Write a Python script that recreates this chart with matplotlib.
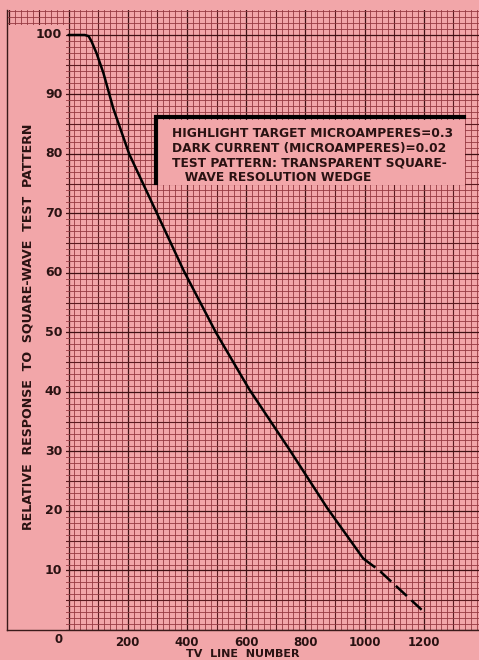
import numpy as np
import matplotlib
matplotlib.use("Agg")
import matplotlib.pyplot as plt
from matplotlib.patches import Rectangle

# --- data ---
tv_lines = [0, 55, 68, 78, 95, 118, 151, 205, 299, 390, 498, 610, 748, 874, 996]
response = [100, 100, 99.8, 98.9, 96.9, 93.6, 87.7, 80, 70, 60.3, 50, 40.5, 30.2, 20.5, 12]
tv_lines_dash = [996, 1050, 1193]
response_dash = [12, 10, 3.4]

x_ticks = [200, 400, 600, 800, 1000, 1200]
y_ticks = [10, 20, 30, 40, 50, 60, 70, 80, 90, 100]

note_lines = ["HIGHLIGHT TARGET MICROAMPERES=0.3",
              "DARK CURRENT (MICROAMPERES)=0.02",
              "TEST PATTERN: TRANSPARENT SQUARE-",
              "   WAVE RESOLUTION WEDGE"]

bg = "#F2A6A9"
ink = "#2a1212"

fig = plt.figure(figsize=(4.79, 6.60), dpi=100, facecolor=bg)
ax = fig.add_axes([7 / 479, 30 / 660, 472 / 479, 620 / 660])
ax.set_facecolor(bg)

x0, x1 = -207.8, 1386.8
y0, y1 = 0, 104.2
ax.set_xlim(x0, x1)
ax.set_ylim(y0, y1)

# graph paper
for xv in np.arange(-200, 1400, 20):
    if xv % 200 == 0:
        c, lw = "#3f1114", 0.9
    elif xv % 100 == 0:
        c, lw = "#5a1b20", 0.8
    else:
        c, lw = "#963a42", 0.6
    ax.axvline(xv, color=c, lw=lw, zorder=1)
for yv in np.arange(0, 105, 1):
    if yv % 10 == 0:
        c, lw = "#3f1114", 0.9
    elif yv % 5 == 0:
        c, lw = "#5a1b20", 0.8
    else:
        c, lw = "#963a42", 0.6
    ax.axhline(yv, color=c, lw=lw, zorder=1)

# pink label panel on the left
ax.add_patch(Rectangle((x0, 0), -8.4 - x0, 101.7, facecolor=bg, edgecolor="none", zorder=3))

for s in ["top", "right"]:
    ax.spines[s].set_visible(False)
for s in ["left", "bottom"]:
    ax.spines[s].set_color("#3a1a1a")
    ax.spines[s].set_linewidth(1.0)
    ax.spines[s].set_zorder(5)

# curve
ax.plot(tv_lines, response, color="black", lw=1.8, zorder=6, solid_capstyle="round",
        solid_joinstyle="round")
ax.plot(tv_lines_dash, response_dash, color="black", lw=1.8, zorder=6,
        dashes=(6, 2.5))

# ticks
ax.tick_params(length=0)
ax.set_yticks([])
ax.set_xticks(x_ticks)
ax.set_xticklabels([str(v) for v in x_ticks], fontsize=8.5, fontweight="bold", color=ink)
ax.tick_params(axis="x", pad=4)
ax.text(-35, -1.6, "0", ha="center", va="center", fontsize=8.5, fontweight="bold", color=ink,
        zorder=7, clip_on=False)
for v in y_ticks:
    ax.text(-21, v, str(v), ha="right", va="center", fontsize=9, fontweight="bold",
            color=ink, zorder=7)

ax.text(-137, 50.9, "RELATIVE  RESPONSE  TO  SQUARE-WAVE  TEST  PATTERN", rotation=90,
        ha="center", va="center", fontsize=9.1, fontweight="bold", color=ink, zorder=7)
ax.text(590, -4.0, "TV  LINE  NUMBER", ha="center", va="center", fontsize=8,
        fontweight="bold", color=ink, clip_on=False)

# annotation box
ax.add_patch(Rectangle((299, 74.8), 1040, 10.9, facecolor=bg, edgecolor="none", zorder=4))
ax.plot([294, 294, 1335], [75.1, 86.2, 86.2], color="black", lw=3, zorder=5,
        solid_joinstyle="miter")
ty = [83.5, 81.0, 78.5, 76.1]
for t, yy in zip(note_lines, ty):
    ax.text(350, yy, t, ha="left", va="center", fontsize=8.8, fontweight="bold",
            color=ink, zorder=6)

fig.savefig("out.png", dpi=100, facecolor=bg)
